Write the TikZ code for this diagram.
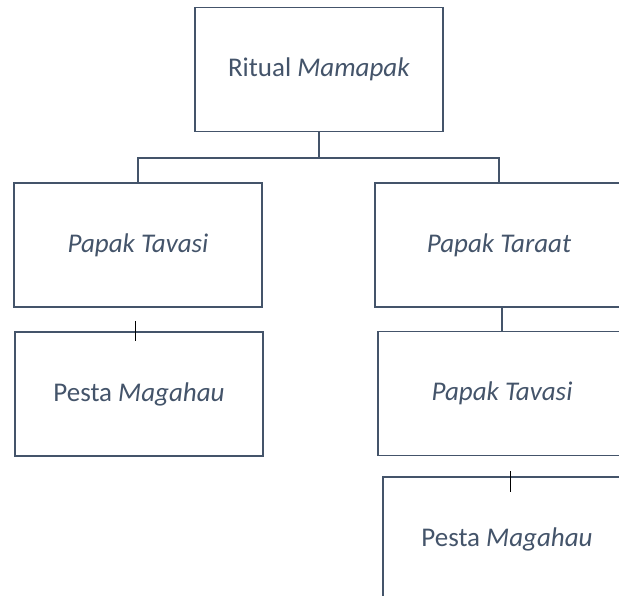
\documentclass[tikz,border=0pt]{standalone}
\usepackage{fontspec}
\setmainfont{Carlito}
\definecolor{slate}{HTML}{44546A}
\begin{document}
\begin{tikzpicture}[x=1pt,y=-1pt,box/.style={shape=rectangle,draw=slate,line width=1.6pt,minimum width=248pt,minimum height=124pt,inner sep=0pt,text=slate,font=\fontsize{27}{32}\selectfont},link/.style={draw=slate,line width=1.6pt},tick/.style={draw=black,line width=0.8pt}]
\def\dy{26};

\useasboundingbox (0,0) rectangle (619,596);
\clip (0,0) rectangle (619,596);

\node[box] (R) at (319,69.5) {Ritual \textit{Mamapak}};

\node[box] (T1) at (138,245) {\textit{Papak Tavasi}};
\node[box] (T2) at (499,245) {\textit{Papak Taraat}};
\draw[link] (R.south) -- ++(0,\dy) coordinate (J);
\draw[link] (J) -| (T1.north);
\draw[link] (J) -| (T2.north);

\node[box] (P1) at (139,394) {Pesta \textit{Magahau}};
\draw[tick] ([xshift=-4pt,yshift=10pt]P1.north) -- ([xshift=-4pt,yshift=-10pt]P1.north);

\node[box] (V2) at (502,393.5) {\textit{Papak Tavasi}};
\draw[link] (T2.south -| V2.north) -- (V2.north);

\node[box] (P2) at (507,539) {Pesta \textit{Magahau}};
\draw[tick] ([xshift=3pt,yshift=5pt]P2.north) -- ([xshift=3pt,yshift=-16pt]P2.north);
\end{tikzpicture}
\end{document}
